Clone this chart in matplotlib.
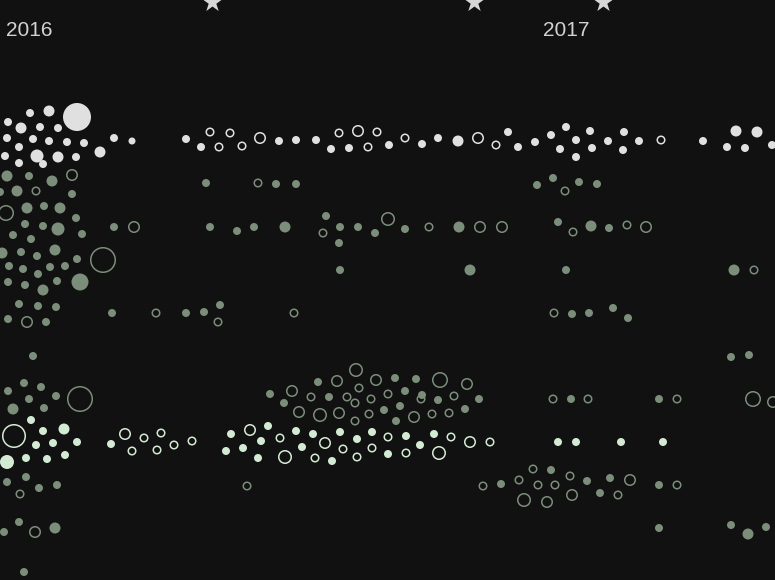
import matplotlib.pyplot as plt
import numpy as np

# 背景与颜色
BG = '#111111'
WHITE = '#e0e0e0'
GREEN = '#7a8e7a'
MINT = '#d3ebd3'

# 年份标签 (x 位置, 文本)
year_x = [6, 543]
year_labels = ['2016', '2017']

# 星标 x 位置
star_x = [212, 474, 603]

# 每个点: (x, y, 半径px, 空心)
white_pts = [
    (8, 122, 4, 0), (30, 113, 4, 0), (49, 111, 5.5, 0), (77, 117, 14, 0), (21, 128, 5.5, 0),
    (40, 127, 4, 0), (58, 128, 4, 0), (7, 138, 4, 0), (33, 139, 4, 0), (49, 141, 4, 0),
    (67, 142, 4, 0), (84, 143, 4, 0), (114, 138, 4, 0), (132, 141, 3.5, 0), (19, 147, 4, 0),
    (37, 156, 6.5, 0), (58, 157, 5.5, 0), (76, 157, 4, 0), (100, 152, 5.5, 0), (5, 156, 4, 0),
    (19, 163, 4, 0), (43, 164, 4, 0),
    (186, 139, 4, 0), (201, 147, 4, 0), (210, 132, 4.5, 1), (219, 147, 4.5, 1), (230, 133, 4.5, 1),
    (242, 146, 4.5, 1), (260, 138, 6, 1), (279, 141, 4, 0), (296, 140, 4, 0), (316, 140, 4, 0),
    (331, 149, 4, 0), (339, 133, 4.5, 1), (349, 148, 4, 0), (358, 131, 6, 1), (368, 147, 4.5, 1),
    (377, 132, 4.5, 1), (389, 145, 4, 0), (405, 138, 4.5, 1), (422, 144, 4, 0), (438, 138, 4, 0),
    (458, 141, 5.5, 0), (478, 138, 6, 1), (496, 145, 4.5, 1), (508, 132, 4, 0),
    (518, 147, 4, 0), (535, 142, 4, 0), (551, 135, 4, 0), (566, 127, 4, 0), (560, 149, 4, 0),
    (576, 140, 4, 0), (576, 157, 4, 0), (590, 131, 4, 0), (592, 148, 4, 0), (608, 141, 4, 0),
    (624, 132, 4, 0), (623, 150, 4, 0), (639, 141, 4, 0), (661, 140, 4.5, 1), (703, 141, 4, 0),
    (736, 131, 5.5, 0), (757, 132, 5.5, 0), (727, 147, 4, 0), (745, 148, 4, 0), (772, 145, 4, 0),
]

green_pts = [
    # 左侧密集区
    (7, 176, 5.5, 0), (29, 176, 4, 0), (52, 181, 5.5, 0), (72, 175, 6, 1), (17, 191, 5.5, 0),
    (36, 191, 4.5, 1), (72, 194, 4, 0), (0, 192, 4, 0),
    (6, 213, 8, 1), (27, 208, 5.5, 0), (44, 206, 4, 0), (60, 208, 5.5, 0), (76, 218, 4, 0),
    (25, 224, 4, 0), (43, 226, 4, 0), (58, 229, 6.5, 0), (82, 234, 4, 0), (13, 235, 4, 0),
    (31, 239, 4, 0),
    (2, 253, 5.5, 0), (21, 252, 4, 0), (37, 256, 4, 0), (55, 250, 5.5, 0), (77, 259, 4, 0),
    (103, 260, 13, 1), (9, 266, 4, 0), (23, 269, 4, 0), (50, 267, 4, 0), (65, 266, 4, 0),
    (38, 274, 4, 0), (8, 282, 4, 0), (25, 285, 4, 0), (43, 290, 5.5, 0), (57, 281, 4, 0),
    (80, 282, 8.5, 0), (19, 304, 4, 0), (38, 306, 4, 0), (56, 307, 4, 0), (8, 319, 4, 0),
    (27, 322, 6, 1), (46, 322, 4, 0),
    (33, 356, 4, 0),
    (24, 383, 4, 0), (8, 391, 4, 0), (41, 387, 4, 0), (29, 399, 4, 0), (56, 396, 4, 0),
    (13, 409, 5.5, 0), (44, 408, 4, 0), (80, 399, 13, 1),
    (7, 482, 4, 0), (26, 477, 4, 0), (39, 488, 4, 0), (57, 485, 4, 0), (20, 494, 4.5, 1),
    (19, 522, 4, 0), (4, 532, 4, 0), (35, 532, 6, 1), (55, 528, 5.5, 0), (24, 572, 4, 0),
    # 2016 中段
    (206, 183, 4, 0), (258, 183, 4.5, 1), (276, 184, 4, 0), (296, 184, 4, 0),
    (114, 227, 4, 0), (134, 227, 6, 1), (210, 227, 4, 0), (237, 231, 4, 0), (254, 227, 4, 0),
    (285, 227, 5.5, 0), (326, 216, 4, 0), (323, 233, 4.5, 1), (340, 227, 4, 0), (339, 243, 4, 0),
    (358, 227, 4, 0), (375, 233, 4, 0), (388, 219, 7, 1), (405, 229, 4, 0), (429, 227, 4.5, 1),
    (459, 227, 5.5, 0), (480, 227, 6, 1), (502, 227, 6, 1),
    (340, 270, 4, 0), (470, 270, 5.5, 0),
    (112, 313, 4, 0), (156, 313, 4.5, 1), (186, 313, 4, 0), (204, 312, 4, 0), (220, 305, 4, 0),
    (218, 322, 4.5, 1), (294, 313, 4.5, 1),
    (270, 394, 4, 0), (284, 403, 4, 0), (292, 391, 6, 1), (318, 382, 4, 0), (311, 397, 4.5, 1),
    (299, 412, 6, 1), (320, 415, 7, 1), (337, 381, 6, 1), (329, 397, 4, 0), (339, 413, 6, 1),
    (356, 370, 7, 1), (359, 388, 4.5, 1), (347, 397, 4.5, 1), (355, 403, 4.5, 1), (355, 421, 4.5, 1),
    (376, 380, 6, 1), (371, 399, 4.5, 1), (369, 414, 4.5, 1), (395, 378, 4, 0), (388, 394, 4.5, 1),
    (384, 410, 4, 0), (396, 421, 4, 0), (405, 391, 4, 0), (400, 406, 4, 0), (416, 379, 4, 0),
    (422, 395, 4, 0), (421, 399, 4.5, 1), (414, 417, 6, 1), (440, 380, 8, 1), (438, 400, 4, 0),
    (432, 414, 4.5, 1), (454, 396, 4.5, 1), (449, 413, 4.5, 1), (467, 384, 6, 1), (465, 409, 4, 0),
    (479, 399, 4, 0),
    (247, 486, 4.5, 1),
    # 2017
    (483, 486, 4.5, 1), (501, 484, 4, 0), (519, 480, 4.5, 1), (533, 469, 4.5, 1), (551, 470, 4, 0),
    (538, 485, 4.5, 1), (555, 485, 4.5, 1), (570, 476, 4.5, 1), (587, 481, 4, 0), (610, 478, 4, 0),
    (630, 480, 6, 1), (524, 500, 7, 1), (547, 502, 6, 1), (572, 495, 6, 1), (600, 493, 4, 0),
    (618, 495, 4.5, 1), (659, 485, 4, 0), (677, 485, 4.5, 1),
    (537, 185, 4, 0), (553, 178, 4, 0), (565, 191, 4.5, 1), (579, 182, 4, 0), (597, 184, 4, 0),
    (558, 222, 4, 0), (573, 232, 4.5, 1), (591, 226, 5.5, 0), (609, 228, 4, 0), (627, 225, 4.5, 1),
    (646, 227, 6, 1),
    (566, 270, 4, 0), (734, 270, 5.5, 0), (754, 270, 4.5, 1),
    (554, 313, 4.5, 1), (572, 314, 4, 0), (589, 313, 4, 0), (613, 308, 4, 0), (628, 318, 4, 0),
    (731, 357, 4, 0), (749, 355, 4, 0),
    (553, 399, 4.5, 1), (571, 399, 4, 0), (588, 399, 4.5, 1), (659, 399, 4, 0), (677, 399, 4.5, 1),
    (753, 399, 8, 1), (773, 402, 6, 1),
    (659, 528, 4, 0), (731, 525, 4, 0), (748, 534, 5.5, 0), (766, 527, 4, 0),
]

mint_pts = [
    (31, 420, 4, 0), (14, 436, 12, 1), (43, 431, 4, 0), (64, 429, 5.5, 0), (36, 445, 4, 0),
    (53, 443, 4, 0), (77, 442, 4, 0), (7, 462, 7, 0), (26, 458, 4, 0), (47, 459, 4, 0),
    (65, 455, 4, 0),
    (111, 444, 4, 0), (125, 434, 6, 1), (144, 438, 4.5, 1), (161, 433, 4.5, 1), (132, 451, 4.5, 1),
    (157, 450, 4.5, 1), (174, 445, 4.5, 1), (192, 441, 4.5, 1),
    (231, 434, 4, 0), (250, 430, 6, 1), (226, 451, 4, 0), (243, 448, 4, 0), (261, 441, 4, 0),
    (268, 426, 4, 0), (258, 458, 4, 0), (280, 438, 4.5, 1), (285, 457, 7, 1), (296, 431, 4, 0),
    (302, 447, 4, 0), (313, 434, 4, 0), (325, 443, 6, 1), (315, 458, 4.5, 1), (332, 461, 4, 0),
    (340, 432, 4, 0), (343, 449, 4.5, 1), (357, 439, 4, 0), (357, 457, 4.5, 1), (372, 432, 4, 0),
    (372, 448, 4.5, 1), (388, 437, 4.5, 1), (388, 454, 4, 0), (406, 436, 4, 0), (406, 453, 4.5, 1),
    (420, 445, 4, 0), (434, 434, 4, 0), (439, 453, 7, 1), (451, 437, 4.5, 1), (470, 442, 6, 1),
    (490, 442, 4.5, 1),
    (558, 442, 4, 0), (576, 442, 4, 0), (621, 442, 4, 0), (663, 442, 4, 0),
]

DPI = 100
LW = 1.1


def draw_points(ax, pts, color):
    arr = np.array(pts, dtype=float)
    x, y, r, hollow = arr[:, 0], arr[:, 1], arr[:, 2], arr[:, 3].astype(bool)
    d = 2 * r * 72 / DPI  # 直径(磅)
    ax.scatter(x[~hollow], y[~hollow], s=d[~hollow] ** 2, color=color, linewidths=0, zorder=3)
    dh = (2 * r - 1.5) * 72 / DPI
    ax.scatter(x[hollow], y[hollow], s=dh[hollow] ** 2, facecolors='none', edgecolors=color,
               linewidths=LW, zorder=3)


fig = plt.figure(figsize=(7.75, 5.8), dpi=DPI, facecolor=BG)
ax = fig.add_axes([0, 0, 1, 1])
ax.set_facecolor(BG)
ax.set_xlim(0, 775)
ax.set_ylim(580, 0)
ax.axis('off')

draw_points(ax, white_pts, WHITE)
draw_points(ax, green_pts, GREEN)
draw_points(ax, mint_pts, MINT)

ax.scatter(star_x, [2] * len(star_x), marker='*', s=230, color='#d6d6d6', linewidths=0, zorder=3)

for xx, lab in zip(year_x, year_labels):
    ax.text(xx, 30, lab, color='#d2d2d2', fontsize=15, family='Liberation Sans',
            ha='left', va='center')

fig.savefig('out.png', dpi=DPI, facecolor=BG)
